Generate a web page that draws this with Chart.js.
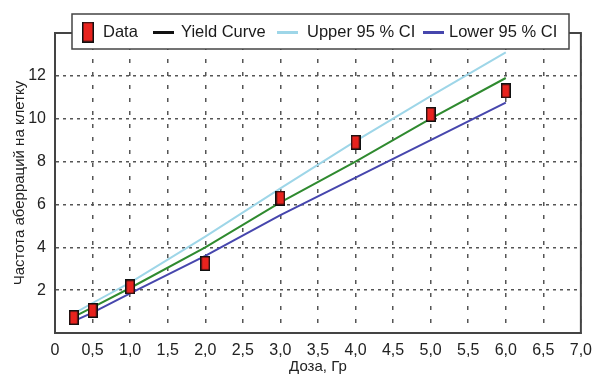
<!DOCTYPE html>
<html>
<head>
<meta charset="utf-8">
<script src="https://cdn.jsdelivr.net/npm/chart.js"></script>
<style>
  body { margin: 0; background: #fff; }
  #wrap { width: 600px; height: 374px; }
</style>
</head>
<body>
<div id="wrap"><canvas id="chart" width="600" height="374"></canvas></div>
<script>
  // дозы, Гр
  const doses = [0.25, 0.5, 1, 2, 3, 4, 5, 6];
  // частота аберраций на клетку (измерено)
  const observed = [0.72, 1.05, 2.15, 3.25, 6.3, 8.9, 10.2, 11.3];
  // кривая доза-эффект и 95% границы
  const yieldCurve = [0.75, 1.2, 2.1, 4.0, 6.1, 8.0, 10.0, 11.9];
  const upperCI = [0.9, 1.4, 2.35, 4.5, 6.75, 8.95, 11.05, 13.1];
  const lowerCI = [0.55, 0.95, 1.85, 3.6, 5.5, 7.25, 9.0, 10.75];

  const seriesLabels = ['Data', 'Yield Curve', 'Upper 95 % CI', 'Lower 95 % CI'];
  const xTitle = 'Доза, Гр';
  const yTitle = 'Частота аберраций на клетку';

  const FONT = '"Liberation Sans", Arial, sans-serif';

  function boxMarker(w, h) {
    const c = document.createElement('canvas');
    c.width = w; c.height = h;
    const g = c.getContext('2d');
    g.fillStyle = '#e8231e';
    g.fillRect(0, 0, w, h);
    g.strokeStyle = '#111';
    g.lineWidth = 1.5;
    g.strokeRect(0.75, 0.75, w - 1.5, h - 1.5);
    return c;
  }

  const pts = ys => doses.map((d, i) => ({ x: d, y: ys[i] }));

  // рамка вокруг области построения
  const frame = {
    id: 'frame',
    afterDraw(chart) {
      const { ctx, chartArea: a } = chart;
      ctx.save();
      ctx.strokeStyle = '#444';
      ctx.lineWidth = 2;
      ctx.strokeRect(a.left, a.top, a.right - a.left, a.bottom - a.top);
      ctx.restore();
    }
  };

  // легенда в рамке поверх верхней границы графика
  const keyX = [82, 153, 277, 423];
  const textX = [103, 181, 307, 449];
  const boxLegend = {
    id: 'boxLegend',
    afterDraw(chart) {
      const ctx = chart.ctx;
      const x0 = 72, y0 = 14, w = 497, h = 35, cy = y0 + h / 2 + 1;
      ctx.save();
      ctx.fillStyle = '#fff';
      ctx.fillRect(x0, y0, w, h);
      ctx.strokeStyle = '#444';
      ctx.lineWidth = 1.5;
      ctx.strokeRect(x0, y0, w, h);
      ctx.font = '16.5px ' + FONT;
      ctx.textBaseline = 'middle';
      chart.data.datasets.forEach((ds, i) => {
        if (i === 0) {
          ctx.drawImage(boxMarker(12, 21), keyX[i], cy - 11);
        } else {
          ctx.strokeStyle = ds.legendColor;
          ctx.lineWidth = 3;
          ctx.beginPath();
          ctx.moveTo(keyX[i], cy);
          ctx.lineTo(keyX[i] + 21, cy);
          ctx.stroke();
        }
        ctx.fillStyle = '#1a1a1a';
        ctx.fillText(ds.label, textX[i], cy);
      });
      ctx.restore();
    }
  };

  new Chart(document.getElementById('chart'), {
    type: 'scatter',
    data: {
      datasets: [
        {
          label: seriesLabels[0],
          data: pts(observed),
          pointStyle: boxMarker(10, 15),
          pointRadius: 8,
          showLine: false,
          order: 0
        },
        {
          label: seriesLabels[1],
          data: pts(yieldCurve),
          showLine: true,
          borderColor: '#2f8a2f',
          legendColor: '#111',
          borderWidth: 2,
          pointRadius: 0,
          order: 1
        },
        {
          label: seriesLabels[2],
          data: pts(upperCI),
          showLine: true,
          borderColor: '#9ed6e8',
          legendColor: '#9ed6e8',
          borderWidth: 2,
          pointRadius: 0,
          order: 2
        },
        {
          label: seriesLabels[3],
          data: pts(lowerCI),
          showLine: true,
          borderColor: '#4646ad',
          legendColor: '#4646ad',
          borderWidth: 2,
          pointRadius: 0,
          order: 3
        }
      ]
    },
    options: {
      responsive: false,
      animation: false,
      layout: { padding: { left: 0, right: 13, top: 33, bottom: 0 } },
      plugins: {
        legend: { display: false },
        tooltip: { enabled: false }
      },
      scales: {
        x: {
          type: 'linear',
          min: 0,
          max: 7,
          afterFit: s => { s.height = 41; },
          ticks: {
            stepSize: 0.5,
            padding: 8,
            color: '#222',
            font: { family: FONT, size: 16 },
            callback: v => v === 0 ? '0' : v.toFixed(1).replace('.', ',')
          },
          grid: { color: '#555', lineWidth: 1.5, drawTicks: false },
          border: { color: '#444', width: 2, dash: [4, 9] },
          title: {
            display: true,
            text: xTitle,
            color: '#222',
            font: { family: FONT, size: 15 },
            padding: { top: 0, bottom: -2 }
          }
        },
        y: {
          min: 0,
          max: 14,
          afterFit: s => { s.width = 55; },
          ticks: {
            stepSize: 2,
            padding: 9,
            color: '#222',
            font: { family: FONT, size: 16 },
            callback: v => (v === 0 || v === 14) ? '' : v
          },
          grid: { color: '#555', lineWidth: 1.5, drawTicks: false },
          border: { color: '#444', width: 2, dash: [3, 4] },
          title: {
            display: true,
            text: yTitle,
            color: '#222',
            font: { family: FONT, size: 15 },
            padding: { top: 11, bottom: 0 }
          }
        }
      }
    },
    plugins: [frame, boxLegend]
  });
</script>
</body>
</html>
